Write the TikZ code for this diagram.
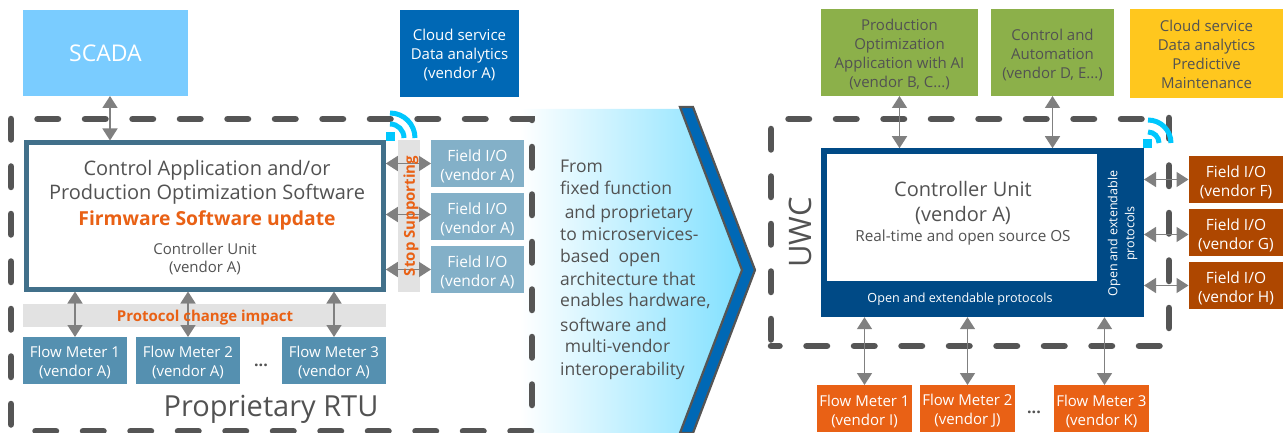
\documentclass[tikz,border=0pt]{standalone}
\usepackage{fontspec}
\setmainfont{Open Sans}
\usetikzlibrary{positioning,arrows.meta}
\definecolor{colortext}   {RGB}{82 ,82 ,82 }
\definecolor{colorscada}  {RGB}{122,204,255}
\definecolor{colorcloud}  {RGB}{0  ,104,181}
\definecolor{colormain}   {RGB}{65 ,112,138}
\definecolor{colorfield}  {RGB}{131,176,200}
\definecolor{colorflow}   {RGB}{85 ,144,176}
\definecolor{colorband}   {RGB}{226,226,226}
\definecolor{colorimpact} {RGB}{233,97 ,21 }
\definecolor{colorctrl}   {RGB}{0  ,74 ,134}
\definecolor{colorgreen}  {RGB}{140,176,74 }
\definecolor{coloryellow} {RGB}{255,199,30 }
\definecolor{colorrust}   {RGB}{174,71 ,0  }
\definecolor{colordash}   {RGB}{85 ,85 ,85 }
\definecolor{colorlink}   {RGB}{128,128,128}
\definecolor{colorwifi}   {RGB}{0  ,199,253}
\definecolor{colorshade}  {RGB}{128,224,255}
\newcommand{\drop}[1]{\rule{0pt}{#1pt}}

\begin{document}
\begin{tikzpicture}[
    x=1pt, y=-1pt,
    base/.style={text=white,font={\fontsize{15}{19}\selectfont},inner sep=0pt,outer sep=0pt,align=center,rectangle},
    txt/.style={text=colortext,font={\fontsize{15}{19}\selectfont},align=center,inner sep=0pt},
    hot/.style={text=colorimpact,font={\fontsize{15}{19}\selectfont\bfseries},inner sep=0pt},
    fieldbox/.style={base,font={\fontsize{15.5}{19}\selectfont},minimum width=93pt,minimum height=47pt},
    flowbox/.style={base,minimum width=104pt,minimum height=47pt},
    rfieldbox/.style={base,font={\fontsize{15.5}{19}\selectfont},fill=colorrust,minimum width=95pt,minimum height=47pt},
    rflowbox/.style={base,fill=colorimpact,minimum width=95pt,minimum height=47pt},
    topbox/.style={base,text=colortext,minimum height=87pt},
    dashbox/.style={draw=colordash,line width=6.5pt,line cap=round,dash pattern=on 20.5pt off 27pt},
    link/.style={draw=colorlink,line width=1.6pt,{Triangle[length=12pt,width=15pt]}-{Triangle[length=12pt,width=15pt]}},
    wifi/.style={draw=colorwifi,line width=5pt},
]
    \useasboundingbox (0,0) rectangle (1283,433);

    % Big arrow
    \shade[left color=white,right color=colorshade] (520,109) -- (680,109) -- (742,270) -- (680,433) -- (520,433) -- cycle;
    \draw[fill=colorcloud,draw=colordash,line width=2.2pt] (680,107) -- (693,107) -- (755,270) -- (693,433) -- (680,433) -- (742,270) -- cycle;

    % Dashed frames
    \draw[dashbox] (37.5,119) -- (532,119) -- (532,431) -- (35.5,431) (11,424.5) -- (11,119);
    \draw[dashbox] (788.5,119) -- (1145,119) (1169,118) -- (1169,328) (1159.5,346) -- (771,346) (771,339.5) -- (771,129);

    % Nodes left
    \node[base,fill=colorscada,minimum width=165pt,minimum height=86pt,font={\fontsize{23}{26}\selectfont}] (scada) at (105.5,53) {SCADA};
    \node[base,fill=colorcloud,minimum width=119pt,minimum height=87pt] (cloud) at (459.5,53.5) {\drop{13.5}Cloud service\\Data analytics\\(vendor A)};
    \node[base,draw=colormain,line width=5pt,fill=white,outer sep=2.5pt,minimum width=357pt,minimum height=146pt] (unit) at (204.8,216) {};
    \node[base,fill=colorband,minimum width=22pt,minimum height=152pt] (stop) at (408.5,216) {};
    \node[base,fill=colorband,minimum width=363pt,minimum height=23pt] (impact) at (204.5,315.5) {};
    \node[fieldbox,fill=colorfield] (fio1) at (477.5,163.5) {\drop{16.5}Field I/O\\(vendor A)};
    \node[fieldbox,fill=colorfield,below=6pt of fio1] (fio2) {\drop{16.5}Field I/O\\(vendor A)};
    \node[fieldbox,fill=colorfield,below=6pt of fio2] (fio3) {\drop{16.5}Field I/O\\(vendor A)};
    \node[flowbox,fill=colorflow] (fm1) at (75,360.5) {\drop{14.5}Flow Meter 1\\(vendor A)};
    \node[flowbox,fill=colorflow,right=9pt of fm1] (fm2) {\drop{14.5}Flow Meter 2\\(vendor A)};
    \node[flowbox,fill=colorflow,right=42pt of fm2] (fm3) {\drop{14.5}Flow Meter 3\\(vendor A)};

    % Nodes right
    \node[topbox,fill=colorgreen,minimum width=157pt] (prod) at (899.5,52.5) {\drop{15.5}Production\\Optimization\\Application with AI\\(vendor B, C...)};
    \node[topbox,fill=colorgreen,minimum width=123pt] (auto) at (1052.5,52.5) {\drop{15.5}Control and\\Automation\\(vendor D, E...)};
    \node[topbox,fill=coloryellow,minimum width=153pt,minimum height=89pt] (maint) at (1206.5,53.5) {\drop{13.5}Cloud service\\Data analytics\\Predictive\\Maintenance};
    \node[base,fill=colorctrl,minimum width=323pt,minimum height=169pt] (ctrl) at (982.5,232.7) {};
    \node[base,fill=white,minimum width=270pt,minimum height=127pt] (core) at (962,217.7) {};
    \node[rfieldbox] (rfio1) at (1236,179.5) {\drop{16.5}Field I/O\\(vendor F)};
    \node[rfieldbox,below=6pt of rfio1] (rfio2) {\drop{16.5}Field I/O\\(vendor G)};
    \node[rfieldbox,below=6pt of rfio2] (rfio3) {\drop{16.5}Field I/O\\(vendor H)};
    \node[rflowbox] (rfm1) at (864.5,408.5) {\drop{16.5}Flow Meter 1\\(vendor I)};
    \node[rflowbox,right=8pt of rfm1] (rfm2) {\drop{16.5}Flow Meter 2\\(vendor J)};
    \node[rflowbox,right=39pt of rfm2] (rfm3) {\drop{16.5}Flow Meter 3\\(vendor K)};

    % Arrows
    \draw[link] ([xshift=4.5pt]scada.south) -- ([xshift=4.5pt]scada.south |- unit.north);
    \draw[link] (fm1.north) -- (fm1.north |- unit.south);
    \draw[link] (fm2.north) -- (fm2.north |- unit.south);
    \draw[link] (fm3.north) -- (fm3.north |- unit.south);
    \draw[link] (fio1.west) -- (fio1.west -| unit.east);
    \draw[link] ([yshift=2pt]fio2.west) -- ([yshift=2pt]fio2.west -| unit.east);
    \draw[link] (fio3.west) -- (fio3.west -| unit.east);
    \draw[link] (prod.south) -- (prod.south |- ctrl.north);
    \draw[link] (auto.south) -- (auto.south |- ctrl.north);
    \draw[link] (rfm1.north) -- (rfm1.north |- ctrl.south);
    \draw[link] (rfm2.north) -- (rfm2.north |- ctrl.south);
    \draw[link] ([xshift=3pt]rfm3.north) -- ([xshift=3pt]rfm3.north |- ctrl.south);
    \draw[link] (rfio1.west) -- (rfio1.west -| ctrl.east);
    \draw[link] ([yshift=-2pt]rfio2.west) -- ([yshift=-2pt]rfio2.west -| ctrl.east);
    \draw[link] (rfio3.west) -- (rfio3.west -| ctrl.east);

    % Wifi marks
    \node[base,fill=colorwifi,minimum size=9.5pt] (wifileft) at (390.5,136.5) {};
    \draw[wifi] (390,113) arc[start angle=90,end angle=0,radius=25pt];
    \draw[wifi] (390,124) arc[start angle=90,end angle=0,radius=14pt];
    \node[base,fill=colorwifi,minimum size=9.5pt] (wifiright) at (1147.7,143.5) {};
    \draw[wifi] (1148,120) arc[start angle=90,end angle=0,radius=23pt];
    \draw[wifi] (1148,132) arc[start angle=90,end angle=0,radius=11pt];

    % Text left
    \node[txt,font={\fontsize{20}{24}\selectfont}] (apptxt) at (207,182) {Control Application and/or\\Production Optimization Software};
    \node[hot,font={\fontsize{19.3}{24}\selectfont\bfseries}] (fwtxt) at (207,220) {Firmware Software update};
    \node[txt,font={\fontsize{15}{18}\selectfont}] (unittxt) at (205,259) {Controller Unit\\(vendor A)};
    \node[hot,rotate=90] (stoptxt) at (411,216) {Stop Supporting};
    \node[hot] (impacttxt) at (205,318) {Protocol change impact};
    \node[txt,font={\fontsize{16}{20}\selectfont\bfseries}] (dotsleft) at (261,365) {...};
    \node[txt,font={\fontsize{29}{34}\selectfont}] (rtutxt) at (271,409) {Proprietary RTU};

    % Text arrow
    \node[txt,align=left,anchor=north west,font={\fontsize{17.5}{21.5}\selectfont}] (fromtxt) at (560,160) {From\\fixed function\\[3pt]
        \ and proprietary\\to microservices-\\[1pt]based\ \ open\\[1pt]architecture that\\enables hardware,\\[3pt]software and\\\ multi-vendor\\[1pt]interoperability};

    % Text right
    \node[txt,font={\fontsize{20}{25}\selectfont}] (ctrltxt) at (963,202.5) {Controller Unit\\(vendor A)};
    \node[txt,font={\fontsize{15.3}{18}\selectfont}] (ostxt) at (963,238) {Real-time and open source OS};
    \node[txt,text=white,font={\fontsize{12.6}{17}\selectfont}] (prottxt) at (960,299) {Open and extendable protocols};
    \node[txt,text=white,rotate=90,font={\fontsize{12.5}{17}\selectfont}] (sidetxt) at (1122.5,233.5) {Open and extendable\\protocols};
    \node[txt,rotate=90,font={\fontsize{31}{34}\selectfont}] (uwctxt) at (800,232.7) {UWC};
    \node[txt,font={\fontsize{16}{20}\selectfont\bfseries}] (dotsright) at (1034,412) {...};

\end{tikzpicture}
\end{document}
